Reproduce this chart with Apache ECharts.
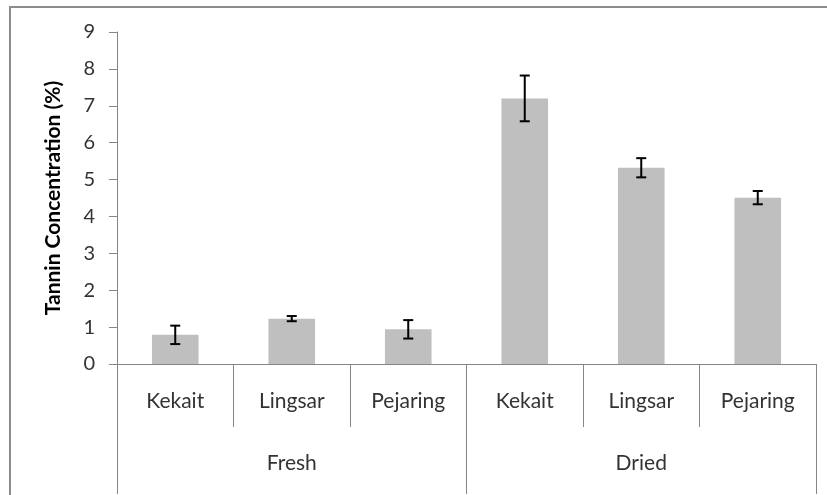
<!DOCTYPE html>
<html>
<head>
<meta charset="utf-8">
<script src="https://cdn.jsdelivr.net/npm/echarts@6/dist/echarts.min.js"></script>
<style>
html,body{margin:0;padding:0;background:#fff;}
#chart{width:827px;height:495px;}
</style>
</head>
<body>
<div id="chart"></div>
<script>
// ---- data ----
const categories = ['Kekait', 'Lingsar', 'Pejaring', 'Kekait', 'Lingsar', 'Pejaring'];
const groups = ['Fresh', 'Dried'];
const tanninMean = [0.79, 1.23, 0.94, 7.20, 5.32, 4.51];
const tanninErr = [0.25, 0.07, 0.25, 0.62, 0.26, 0.18];
const yTicks = [0, 1, 2, 3, 4, 5, 6, 7, 8, 9];

const errData = tanninMean.map((m, i) => [i, m - tanninErr[i], m + tanninErr[i]]);

const chart = echarts.init(document.getElementById('chart'), null, {renderer: 'canvas'});
const FONT = 'Lato';
const axisGray = '#868686';

chart.setOption({
  animation: false,
  backgroundColor: '#ffffff',
  graphic: [{
    type: 'rect',
    shape: {x: 10, y: 7, width: 900, height: 600},
    style: {fill: 'none', stroke: '#8c8c8c', lineWidth: 2},
    silent: true,
    z: -10
  }],
  grid: {left: 117, right: 11, top: 32, bottom: 131},
  xAxis: [{
    type: 'category',
    data: categories,
    position: 'bottom',
    axisLine: {show: true, lineStyle: {color: axisGray, width: 1}},
    axisTick: {show: true, interval: 0, length: 63, alignWithLabel: false, lineStyle: {color: axisGray}},
    axisLabel: {interval: 0, margin: 27, fontFamily: FONT, fontSize: 21, color: '#333333'},
    splitLine: {show: false}
  }, {
    type: 'category',
    data: groups,
    position: 'bottom',
    axisLine: {show: false},
    axisTick: {show: true, interval: 0, length: 130, alignWithLabel: false, lineStyle: {color: axisGray}},
    axisLabel: {interval: 0, margin: 89, fontFamily: FONT, fontSize: 21, color: '#333333'},
    splitLine: {show: false}
  }],
  yAxis: {
    type: 'value',
    min: yTicks[0],
    max: yTicks[yTicks.length - 1],
    interval: 1,
    name: 'Tannin Concentration (%)',
    nameLocation: 'middle',
    nameRotate: 90,
    nameGap: 53,
    nameTextStyle: {fontFamily: FONT, fontSize: 21, fontWeight: 'bold', color: '#000000'},
    axisLine: {show: true, lineStyle: {color: axisGray, width: 1}},
    axisTick: {show: true, length: 8, lineStyle: {color: axisGray}},
    axisLabel: {margin: 22, fontFamily: FONT, fontSize: 20, color: '#333333'},
    splitLine: {show: false}
  },
  series: [{
    type: 'bar',
    xAxisIndex: 0,
    data: tanninMean,
    barCategoryGap: '60%',
    itemStyle: {color: '#bfbfbf'},
    z: 2
  }, {
    type: 'custom',
    xAxisIndex: 0,
    data: errData,
    encode: {x: 0, y: [1, 2]},
    z: 3,
    renderItem: function (params, api) {
      const i = api.value(0);
      const lo = api.coord([i, api.value(1)]);
      const hi = api.coord([i, api.value(2)]);
      const hw = 5;
      const st = {stroke: '#000000', lineWidth: 2};
      return {
        type: 'group',
        children: [
          {type: 'line', shape: {x1: lo[0], y1: lo[1], x2: hi[0], y2: hi[1]}, style: st},
          {type: 'line', shape: {x1: lo[0] - hw, y1: lo[1], x2: lo[0] + hw, y2: lo[1]}, style: st},
          {type: 'line', shape: {x1: hi[0] - hw, y1: hi[1], x2: hi[0] + hw, y2: hi[1]}, style: st}
        ]
      };
    }
  }]
});
</script>
</body>
</html>
